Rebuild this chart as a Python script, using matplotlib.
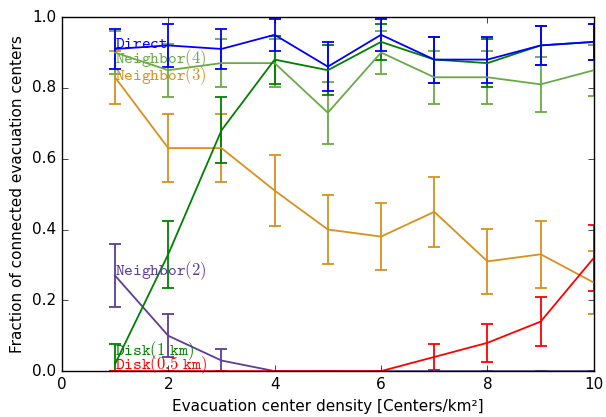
import matplotlib
matplotlib.use('Agg')
import matplotlib.pyplot as plt

plt.style.use('classic')
plt.rcParams['mathtext.fontset'] = 'cm'

density = [1, 2, 3, 4, 5, 6, 7, 8, 9, 10]

# mean and std for each connection strategy
direct = [0.91, 0.92, 0.91, 0.95, 0.86, 0.95, 0.88, 0.88, 0.92, 0.93]
direct_err = [0.057, 0.06, 0.057, 0.045, 0.069, 0.045, 0.065, 0.065, 0.055, 0.05]

neighbor4 = [0.90, 0.85, 0.87, 0.87, 0.73, 0.90, 0.83, 0.83, 0.81, 0.85]
neighbor4_err = [0.06, 0.075, 0.068, 0.068, 0.088, 0.06, 0.075, 0.075, 0.078, 0.072]

neighbor3 = [0.83, 0.63, 0.63, 0.51, 0.40, 0.38, 0.45, 0.31, 0.33, 0.25]
neighbor3_err = [0.075, 0.097, 0.097, 0.10, 0.097, 0.095, 0.098, 0.092, 0.094, 0.09]

neighbor2 = [0.27, 0.10, 0.03, 0.0, 0.0, 0.0, 0.0, 0.0, 0.0, 0.0]
neighbor2_err = [0.088, 0.06, 0.033, 0.0, 0.0, 0.0, 0.0, 0.0, 0.0, 0.0]

disk1 = [0.02, 0.33, 0.68, 0.88, 0.85, 0.93, 0.88, 0.87, 0.92, 0.93]
disk1_err = [0.058, 0.094, 0.093, 0.068, 0.07, 0.05, 0.065, 0.068, 0.055, 0.05]

disk05 = [0.0, 0.0, 0.0, 0.0, 0.0, 0.0, 0.04, 0.08, 0.14, 0.32]
disk05_err = [0.0, 0.0, 0.0, 0.0, 0.0, 0.0, 0.038, 0.054, 0.068, 0.093]

series = [
    (neighbor3, neighbor3_err, '#d8901e', r'$\mathtt{Neighbor(3)}$', 0.822),
    (neighbor2, neighbor2_err, '#5e3c99', r'$\mathtt{Neighbor(2)}$', 0.272),
    (neighbor4, neighbor4_err, '#6aaa46', r'$\mathtt{Neighbor(4)}$', 0.869),
    (disk1, disk1_err, '#008000', r'$\mathtt{Disk(1\ km)}$', 0.045),
    (disk05, disk05_err, '#ff0000', r'$\mathtt{Disk(0.5\ km)}$', 0.006),
    (direct, direct_err, '#0000ff', r'$\mathtt{Direct}$', 0.912),
]

fig = plt.figure(figsize=(6.06, 4.17), dpi=100, facecolor='white')
ax = fig.add_subplot(111)
fig.subplots_adjust(left=0.102, right=0.980, top=0.959, bottom=0.110)

for vals, errs, col, name, ly in series:
    ax.errorbar(density, vals, yerr=errs, color=col, lw=1.3, elinewidth=1.3,
                capsize=4.5, capthick=1.3)
    ax.text(density[0], ly, name, color=col, fontsize=12, ha='left', va='baseline')

ax.set_xlim(0, 10)
ax.set_ylim(0, 1.0)
ax.set_xticks([0, 2, 4, 6, 8, 10])
ax.set_yticks([0.0, 0.2, 0.4, 0.6, 0.8, 1.0])
ax.tick_params(labelsize=11)
ax.set_xlabel('Evacuation center density [Centers/km²]', fontsize=11)
ax.set_ylabel('Fraction of connected evacuation centers', fontsize=11)

fig.savefig('out.png', dpi=100, facecolor='white')
